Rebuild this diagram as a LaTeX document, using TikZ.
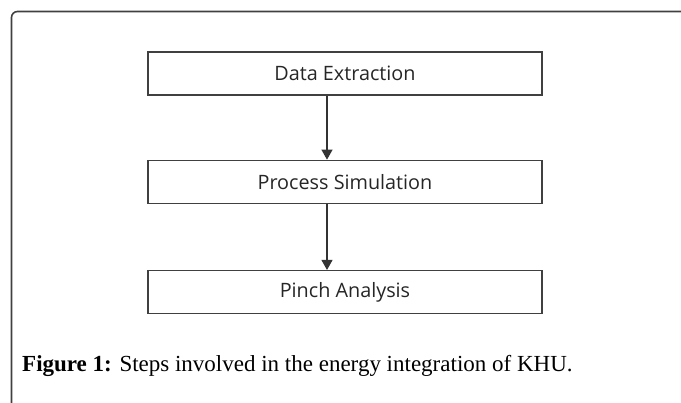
\documentclass[tikz,border=0pt]{standalone}
\usepackage{fontspec}
\setmainfont{Liberation Serif}
\newfontfamily\boxfont{Open Sans}
\usetikzlibrary{positioning,arrows.meta}

\tikzset{
	stepbox/.style={draw=black!75, line width=1.3pt, minimum width=394pt, minimum height=43pt, inner sep=0pt, font=\boxfont\fontsize{19.8}{22}\selectfont, text=black!85},
	flow/.style={-{Triangle[length=10pt,width=11pt]}, line width=1.1pt, black!80}
}

\begin{document}
\begin{tikzpicture}[x=1pt,y=1pt]
	\useasboundingbox (0,0) rectangle (681,-403);
	% frame
	\draw[black!75, line width=1.6pt, rounded corners=6pt] (11.5,-403) -- (11.5,-11.5) -- (681,-11.5);

	\node[stepbox] (extract) at (345,-73.5) {Data Extraction};
	\node[stepbox, below=64pt of extract] (simul) {Process Simulation};
	\node[stepbox, below=66pt of simul] (pinch) {Pinch Analysis};

	\draw[flow] ([xshift=-18pt]extract.south) -- ([xshift=-18pt]simul.north);
	\draw[flow] ([xshift=-18pt]simul.south) -- ([xshift=-18pt]pinch.north);

	\node[anchor=west, inner sep=0pt, font=\fontsize{23}{26}\selectfont] (caption) at (22,-366) {\textbf{Figure 1:} Steps involved in the energy integration of KHU.};
\end{tikzpicture}
\end{document}
